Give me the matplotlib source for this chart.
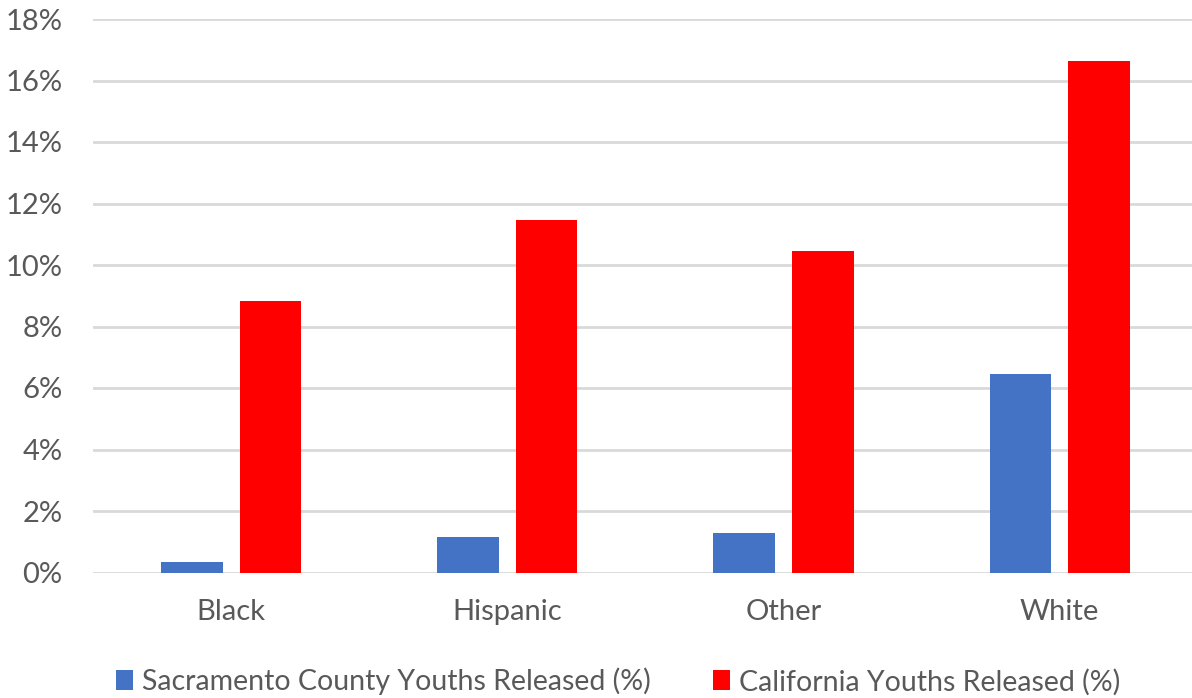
import matplotlib.pyplot as plt
import numpy as np
from matplotlib.ticker import PercentFormatter

groups = ["Black", "Hispanic", "Other", "White"]
sacramento = [0.35, 1.15, 1.3, 6.45]
california = [8.82, 11.45, 10.47, 16.64]
labels = ["Sacramento County Youths Released (%)", "California Youths Released (%)"]

plt.rcParams['font.family'] = ['Lato', 'DejaVu Sans']
grey = '#595959'

fig = plt.figure(figsize=(11.92, 6.98), dpi=100)
ax = fig.add_axes([93 / 1192, 125.5 / 698, 1 - 93 / 1192, 553.5 / 698])

x = np.arange(len(groups))
w = 0.223
off = 0.1423
ax.bar(x - off, sacramento, w, color='#4472C4', label=labels[0], zorder=3)
ax.bar(x + off, california, w, color='#FF0000', label=labels[1], zorder=3)

ax.set_ylim(0, 18)
ax.set_xlim(-0.5, 3.479)
ax.set_yticks(range(0, 19, 2))
ax.yaxis.set_major_formatter(PercentFormatter(decimals=0))
ax.set_xticks(x)
ax.set_xticklabels(groups)
ax.grid(axis='y', color='#d9d9d9', linewidth=2, zorder=0)
for s in ax.spines.values():
    s.set_visible(False)
ax.tick_params(length=0, labelsize=21, colors=grey)
ax.tick_params(axis='y', pad=22)
ax.tick_params(axis='x', pad=19)

leg = ax.legend(loc='center', bbox_to_anchor=(0.478, -0.197), ncol=2,
                frameon=False, fontsize=20.5, handlelength=0.6, handleheight=0.7,
                handletextpad=0.3, columnspacing=2.2)
for t in leg.get_texts():
    t.set_color(grey)

fig.savefig('out.png', dpi=100)
